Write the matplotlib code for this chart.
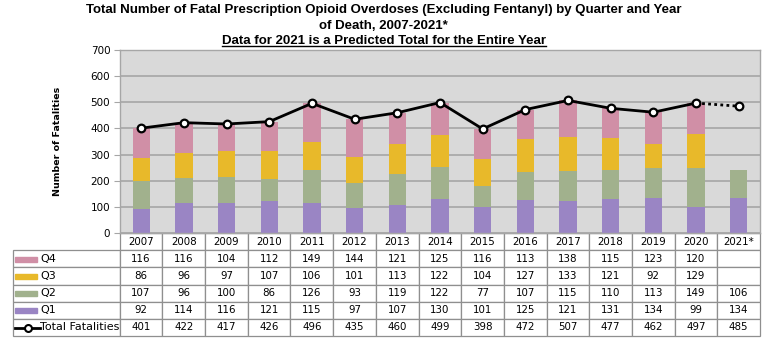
import matplotlib
matplotlib.use("Agg")
import matplotlib.pyplot as plt
from matplotlib.patches import Rectangle
from matplotlib.lines import Line2D
import numpy as np

# quarterly counts of fatal prescription opioid overdoses (excluding fentanyl)
years = ["2007", "2008", "2009", "2010", "2011", "2012", "2013", "2014",
         "2015", "2016", "2017", "2018", "2019", "2020", "2021*"]
q1 = [92, 114, 116, 121, 115, 97, 107, 130, 101, 125, 121, 131, 134, 99, 134]
q2 = [107, 96, 100, 86, 126, 93, 119, 122, 77, 107, 115, 110, 113, 149, 106]
q3 = [86, 96, 97, 107, 106, 101, 113, 122, 104, 127, 133, 121, 92, 129, None]
q4 = [116, 116, 104, 112, 149, 144, 121, 125, 116, 113, 138, 115, 123, 120, None]
totals = [401, 422, 417, 426, 496, 435, 460, 499, 398, 472, 507, 477, 462, 497, 485]
row_labels = ["Q4", "Q3", "Q2", "Q1", "Total Fatalities"]

c_q1 = "#9a85c4"
c_q2 = "#a1b18d"
c_q3 = "#e8b92a"
c_q4 = "#d08fa6"
grid_col = "#a6a6a6"

W, H = 767, 341
fig = plt.figure(figsize=(W / 100, H / 100), dpi=100)
ax = fig.add_axes([120 / W, 1 - 233 / H, 640 / W, 183 / H])
ax.set_facecolor("#d9d9d9")

x = np.arange(len(years))
vals = [np.array([v if v is not None else 0 for v in s], dtype=float)
        for s in (q1, q2, q3, q4)]
bottom = np.zeros(len(years))
for v, c in zip(vals, (c_q1, c_q2, c_q3, c_q4)):
    ax.bar(x, v, 0.4, bottom=bottom, color=c, zorder=2)
    bottom += v

# totals: solid for complete years, dotted to the 2021 projection
ax.plot(x[:-1], totals[:-1], color="black", lw=2, zorder=3)
ax.plot(x[-2:], totals[-2:], color="black", lw=2, ls=(0, (1, 1.2)), zorder=3)
ax.plot(x, totals, ls="none", marker="o", ms=5.5, mfc="white", mec="black",
        mew=1.6, zorder=4)

ax.set_xlim(-0.5, len(years) - 0.5)
ax.set_ylim(0, 700)
ax.set_yticks(range(0, 701, 100))
ax.set_xticks([])
ax.yaxis.grid(True, color=grid_col, lw=1.2, zorder=0)
ax.set_axisbelow(True)
ax.tick_params(axis="y", labelsize=7.5, length=4, color=grid_col, pad=3)
for s in ax.spines.values():
    s.set_color(grid_col)
    s.set_linewidth(1)
ax.set_ylabel("Number of Fatalities", fontsize=6.8, fontweight="bold")
ax.yaxis.set_label_coords(-(120 - 62) / 640, 0.5)

# data table under the chart, first column holds the series names
def fmt(s):
    return ["" if v is None else str(v) for v in s]

series = [q4, q3, q2, q1, totals]
cell_text = [[lab] + fmt(s) for lab, s in zip(row_labels, series)]
lab_w = 107 / 640
tbl = ax.table(cellText=cell_text, colLabels=[""] + years,
               colWidths=[lab_w] + [1 / len(years)] * len(years),
               cellLoc="center",
               bbox=[(12.7 - 120) / 640, (233 - 336) / 183,
                     (760 - 12.7) / 640, 103 / 183])
tbl.auto_set_font_size(False)
for (r, c), cell in tbl.get_celld().items():
    cell.set_edgecolor("#8f8f8f")
    cell.set_linewidth(0.9)
    cell.get_text().set_fontsize(7.4)
    if c == 0:
        cell.get_text().set_fontsize(8)
        cell.get_text().set_ha("left")
        cell._loc = "left"
        cell.PAD = 27.5 / 107
        if r == 0:
            cell.visible_edges = "open"
            cell.set_facecolor("none")

# legend keys inside the name column
row_y = [259.5, 276.5, 293.5, 310.5]
for yy, c in zip(row_y, (c_q4, c_q3, c_q2, c_q1)):
    fig.patches.append(Rectangle((15 / W, 1 - (yy + 2.5) / H), 22 / W, 5 / H,
                                 transform=fig.transFigure, color=c))
fig.lines.append(Line2D([15 / W, 40 / W], [1 - 327.5 / H] * 2,
                        transform=fig.transFigure, color="black", lw=2))
fig.lines.append(Line2D([27.5 / W], [1 - 327.5 / H], transform=fig.transFigure,
                        ls="none", marker="o", ms=5, mfc="white", mec="black",
                        mew=1.5))

# titles, sized so the first line spans about 596 px
tkw = dict(ha="center", va="center", fontsize=10, fontweight="bold",
           family="Liberation Sans")
t1 = fig.text(0.5, 1 - 10 / H,
              "Total Number of Fatal Prescription Opioid Overdoses (Excluding Fentanyl) by Quarter and Year",
              **tkw)
t2 = fig.text(0.5, 1 - 26 / H, "of Death, 2007-2021*", **tkw)
t3 = fig.text(0.5, 1 - 41 / H,
              "Data for 2021 is a Predicted Total for the Entire Year", **tkw)
fig.canvas.draw()
r = fig.canvas.get_renderer()
size = 10 * 596 / t1.get_window_extent(r).width
for t in (t1, t2, t3):
    t.set_fontsize(size)
fig.canvas.draw()
bb = t3.get_window_extent(r).transformed(fig.transFigure.inverted())
fig.lines.append(Line2D([bb.x0, bb.x1], [bb.y0 + 0.003] * 2,
                        transform=fig.transFigure, color="black", lw=1))

fig.savefig("out.png", dpi=100)
